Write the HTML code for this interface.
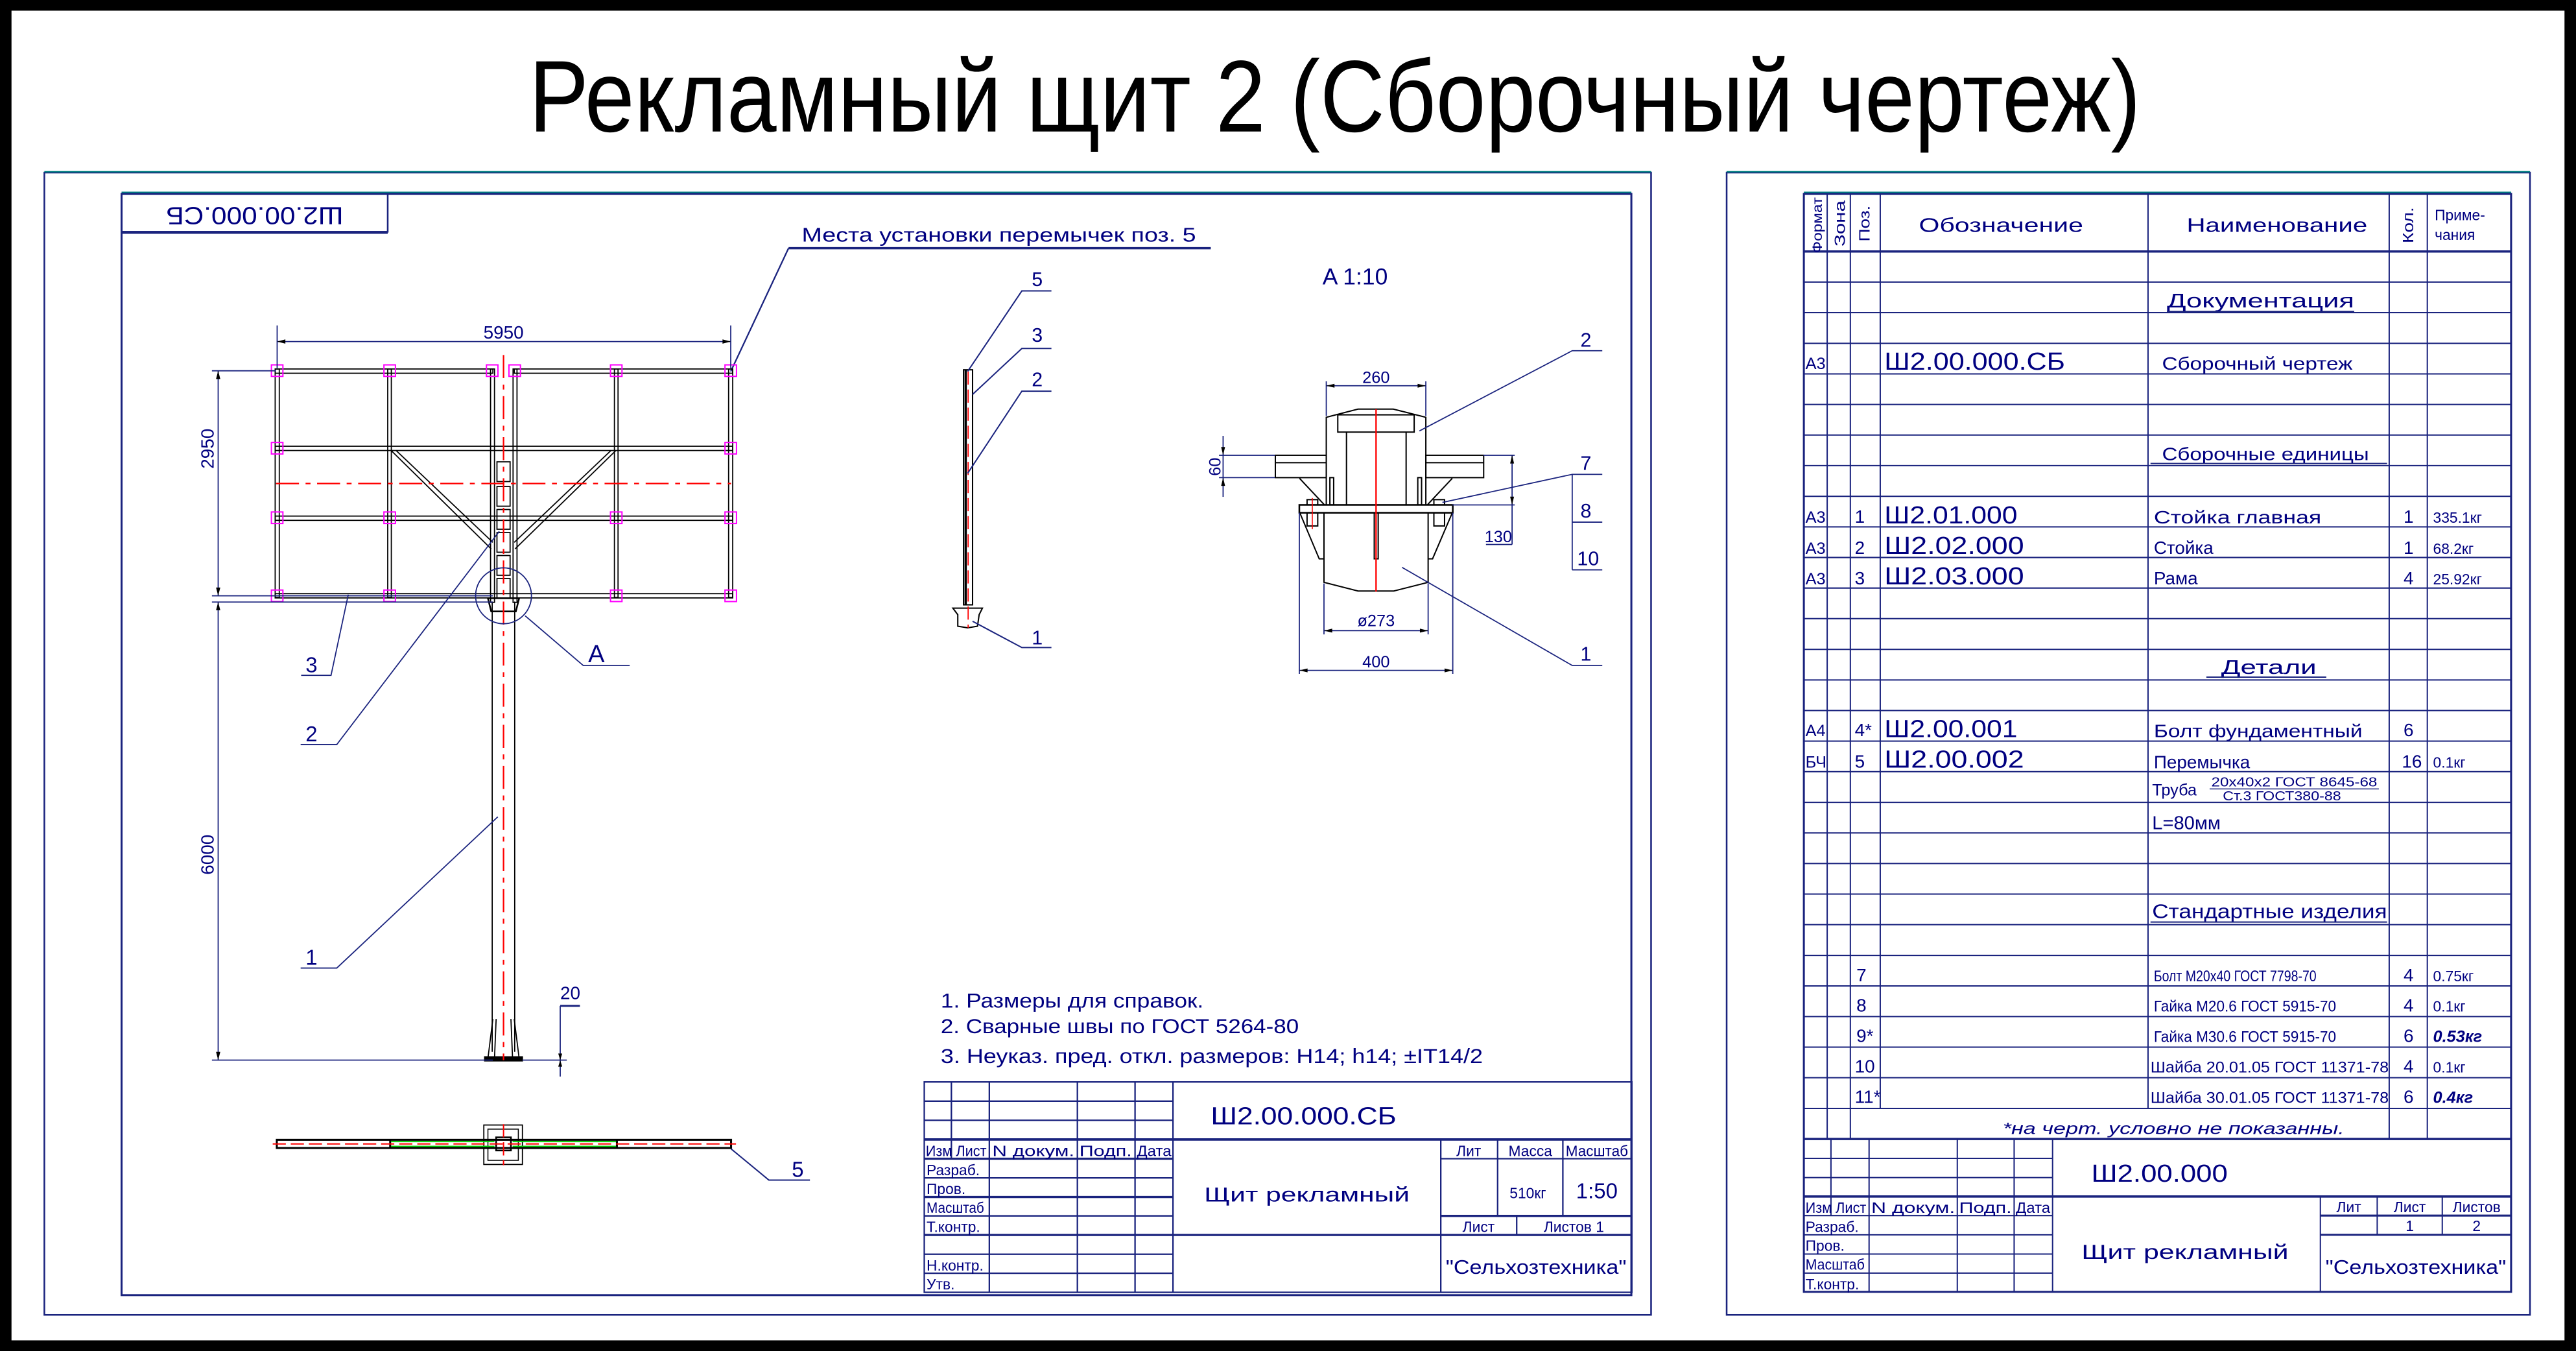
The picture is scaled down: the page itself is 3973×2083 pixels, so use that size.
<!DOCTYPE html>
<html><head><meta charset="utf-8">
<style>
html,body{margin:0;padding:0;background:#000;}
svg{display:block;}
text{font-family:"Liberation Sans","DejaVu Sans",sans-serif;}
</style></head>
<body>
<svg width="3973" height="2083" viewBox="0 0 1568 822" preserveAspectRatio="none" xmlns="http://www.w3.org/2000/svg">
<rect x="0" y="0" width="1568" height="822" fill="#000"/>
<rect x="7" y="6.5" width="1554" height="809" fill="#fff"/>

<!-- Title -->
<text x="322" y="80" font-size="62" textLength="981" lengthAdjust="spacingAndGlyphs" fill="#000">Рекламный щит 2 (Сборочный чертеж)</text>

<!-- LEFT SHEET -->
<g fill="none" stroke="#1a237e">
<rect x="27" y="105" width="978" height="695" stroke-width="1"/>
<line x1="27" y1="104.5" x2="1005" y2="104.5" stroke="#008080" stroke-width="0.8"/>
<rect x="74" y="118" width="919" height="670" stroke-width="1.2"/>
<line x1="74" y1="117" x2="993" y2="117" stroke="#008080" stroke-width="0.8"/>
<rect x="74" y="118" width="162" height="23" stroke-width="1"/>
<line x1="74" y1="141.5" x2="236" y2="141.5" stroke-width="1.5"/>
</g>
<text transform="translate(155,130) rotate(180)" x="0" y="0" font-size="15" text-anchor="middle" dominant-baseline="middle" textLength="108" lengthAdjust="spacingAndGlyphs" fill="#000080">Ш2.00.000.СБ</text>

<!-- leader top label -->
<text x="488" y="147" font-size="12" textLength="240" lengthAdjust="spacingAndGlyphs" fill="#000080">Места установки перемычек   поз. 5</text>
<g stroke="#1a237e" fill="none" stroke-width="0.9">
<line x1="480" y1="151" x2="737" y2="151" stroke-width="1.4"/>
<line x1="480" y1="151" x2="444.8" y2="226"/>
</g>

<!-- Front view: frame -->
<g stroke="#000" fill="none" stroke-width="0.7">
<!-- outer verticals -->
<rect x="167.5" y="224.5" width="2.5" height="139"/>
<rect x="443.5" y="224.5" width="2.5" height="139"/>
<rect x="236" y="224.5" width="2.2" height="139"/>
<rect x="374" y="224.5" width="2.2" height="139"/>
<!-- horizontal rails -->
<rect x="167.5" y="224.5" width="132.5" height="2.6"/>
<rect x="313" y="224.5" width="133" height="2.6"/>
<rect x="167.5" y="271.5" width="278.5" height="2.6"/>
<rect x="167.5" y="314" width="278.5" height="2.6"/>
<rect x="167.5" y="361.2" width="278.5" height="2.6"/>
<!-- central posts -->
<rect x="298.6" y="224.5" width="2.4" height="142"/>
<rect x="312.3" y="224.5" width="2.4" height="142"/>
<!-- diagonals -->
<line x1="238" y1="274" x2="299" y2="334"/>
<line x1="241" y1="274" x2="300" y2="330"/>
<line x1="375" y1="274" x2="313.5" y2="334"/>
<line x1="372" y1="274" x2="313" y2="330"/>
<!-- column blocks -->
<rect x="302.5" y="281" width="8" height="12"/>
<rect x="302.5" y="296" width="8" height="12"/>
<rect x="302.5" y="310" width="8" height="12"/>
<rect x="302.5" y="324" width="8" height="12"/>
<rect x="302.5" y="338" width="8" height="12"/>
<rect x="302.5" y="352" width="8" height="12"/>
<!-- pole -->
<line x1="299.6" y1="366" x2="299.6" y2="640"/>
<line x1="313.3" y1="366" x2="313.3" y2="640"/>
<path d="M297 364 L316 364 L314 372 L299 372 Z" stroke-width="1"/>
<path d="M300 620 L297 644 M313 620 L316 644 M302 620 L301 644 M311 620 L312 644"/>
<rect x="295" y="643" width="23" height="2.5" fill="#000"/>
</g>
<!-- red centerlines -->
<g stroke="#ff0000" stroke-width="0.9" fill="none" stroke-dasharray="14,4,3,4">
<line x1="306.5" y1="216" x2="306.5" y2="645"/>
<line x1="168" y1="294.2" x2="445" y2="294.2"/>
</g>
<!-- magenta squares -->
<g stroke="#ff00ff" fill="none" stroke-width="0.8">
<rect x="165.2" y="222" width="7" height="7"/><rect x="233.7" y="222" width="7" height="7"/><rect x="296.1" y="222" width="7" height="7"/><rect x="309.8" y="222" width="7" height="7"/><rect x="371.6" y="222" width="7" height="7"/><rect x="441.3" y="222" width="7" height="7"/>
<rect x="165.2" y="269.2" width="7" height="7"/><rect x="441.3" y="269.2" width="7" height="7"/>
<rect x="165.2" y="311.5" width="7" height="7"/><rect x="233.7" y="311.5" width="7" height="7"/><rect x="371.6" y="311.5" width="7" height="7"/><rect x="441.3" y="311.5" width="7" height="7"/>
<rect x="165.2" y="359" width="7" height="7"/><rect x="233.7" y="359" width="7" height="7"/><rect x="371.6" y="359" width="7" height="7"/><rect x="441.3" y="359" width="7" height="7"/>
</g>
<!-- dims front -->
<g stroke="#1a237e" fill="none" stroke-width="0.7">
<line x1="168.7" y1="198" x2="168.7" y2="224"/>
<line x1="444.8" y1="198" x2="444.8" y2="224"/>
<line x1="168.7" y1="207.8" x2="444.8" y2="207.8"/>
<line x1="129" y1="225.6" x2="168" y2="225.6"/>
<line x1="129" y1="362.5" x2="300" y2="362.5"/>
<line x1="129" y1="366.3" x2="300" y2="366.3"/>
<line x1="132.8" y1="225.6" x2="132.8" y2="362.5"/>
<line x1="132.8" y1="366.3" x2="132.8" y2="645"/>
<line x1="129" y1="645" x2="300" y2="645"/>
<line x1="318" y1="645" x2="345" y2="645"/>
<line x1="341" y1="612" x2="341" y2="655"/>
<line x1="341" y1="612" x2="353" y2="612" stroke-width="1.2"/>
<circle cx="306.5" cy="362.5" r="17"/>
<polyline points="319.7,374.7 355,404.9 383.3,404.9"/>
<polyline points="212,361.8 201.5,410.9 183.3,410.9"/>
<polyline points="303.9,323.3 205,453 183,453"/>
<polyline points="303,497 205,589 183,589"/>
</g>
<g fill="#000" stroke="none">
<path d="M168.7 207.8 l5 -1.3 v2.6z M444.8 207.8 l-5 -1.3 v2.6z M132.8 225.6 l-1.3 5 h2.6z M132.8 362.5 l-1.3 -5 h2.6z M132.8 366.3 l-1.3 5 h2.6z M132.8 645 l-1.3 -5 h2.6z M341 645 l-1.2 -4 h2.4z M341 645 l-1.2 4 h2.4z"/>
</g>
<g fill="#000080" font-size="12">
<text x="306.5" y="206" text-anchor="middle" font-size="11">5950</text>
<text transform="translate(130,273) rotate(-90)" text-anchor="middle" font-size="11">2950</text>
<text transform="translate(130,520) rotate(-90)" text-anchor="middle" font-size="11">6000</text>
<text x="341" y="608" font-size="11">20</text>
<text x="358" y="403" font-size="15">A</text>
<text x="186" y="409" font-size="13">3</text>
<text x="186" y="451" font-size="13">2</text>
<text x="186" y="587" font-size="13">1</text>
<text x="482" y="716" font-size="13">5</text>
</g>

<!-- top plan view -->
<g stroke="#000" fill="none" stroke-width="1.2">
<rect x="168.5" y="693.5" width="276.5" height="5"/>
<line x1="237.5" y1="693.5" x2="237.5" y2="698.5"/>
<line x1="375.5" y1="693.5" x2="375.5" y2="698.5"/>
<rect x="294.5" y="684.5" width="23.5" height="24" stroke-width="0.7"/>
<rect x="297" y="687" width="18.5" height="19" stroke-width="0.6"/>
<rect x="302" y="692" width="9" height="8" stroke-width="1"/>
</g>
<g stroke="#00cc00" stroke-width="0.8"><line x1="238" y1="694.6" x2="301" y2="694.6"/><line x1="312" y1="694.6" x2="375" y2="694.6"/><line x1="238" y1="697.5" x2="301" y2="697.5"/><line x1="312" y1="697.5" x2="375" y2="697.5"/></g>
<g stroke="#ff0000" stroke-width="0.8" stroke-dasharray="8,3"><line x1="166" y1="696" x2="448" y2="696"/><line x1="306.5" y1="684" x2="306.5" y2="709"/></g>
<polyline points="445,699 468,718 493,718" stroke="#1a237e" fill="none" stroke-width="0.8"/>

<!-- side view -->
<g stroke="#000" fill="none" stroke-width="0.8">
<rect x="586.5" y="225" width="5.5" height="143"/>
<line x1="587.8" y1="225" x2="587.8" y2="368" stroke-width="1.4"/>
<path d="M580 370 L598 370 L596 374 L595 381 L589 382 L583 381 L583 374 Z"/>
</g>
<line x1="589.3" y1="226" x2="589.3" y2="382" stroke="#ff0000" stroke-width="0.7" stroke-dasharray="8,3"/>
<g stroke="#1a237e" fill="none" stroke-width="0.8">
<polyline points="589,226 622,177 640,177"/>
<polyline points="592,240 622,212 640,212"/>
<polyline points="589,288 622,238 640,238"/>
<polyline points="592,378 622,394 640,394"/>
</g>
<g fill="#000080" font-size="12">
<text x="628" y="174">5</text><text x="628" y="208">3</text><text x="628" y="235">2</text><text x="628" y="392">1</text>
</g>

<!-- detail A -->
<text x="805" y="173" font-size="14" fill="#000080">A    1:10</text>
<g stroke="#000" fill="none" stroke-width="0.8">
<path d="M807.3 307.2 V253.9 L826.6 248.9 H848.1 L867.9 253.9 V307.2"/>
<rect x="814.3" y="252.4" width="46.5" height="10.5"/>
<line x1="819.6" y1="262.9" x2="819.6" y2="307.2"/>
<line x1="855.9" y1="262.9" x2="855.9" y2="307.2"/>
<rect x="776.3" y="277" width="31" height="13.6"/>
<line x1="776.3" y1="281.5" x2="807.3" y2="281.5"/>
<rect x="867.9" y="277" width="35.2" height="13.6"/>
<line x1="867.9" y1="281.5" x2="903.1" y2="281.5"/>
<line x1="791" y1="291" x2="806" y2="307"/>
<line x1="884" y1="291" x2="869" y2="307"/>
<rect x="809.5" y="290.6" width="2.3" height="16.6"/><rect x="863" y="290.6" width="2.3" height="16.6"/>
<rect x="790.9" y="307.2" width="93.4" height="4.8" stroke-width="1"/>
<path d="M790.9 311.3 L803 340 H806 M884.3 311.3 L872 340 H869.3"/>
<path d="M805.9 312 V354.3 L826.6 359.6 H848.4 L869.3 354.3 V312"/>
<rect x="836.5" y="312" width="2.4" height="28"/>
<rect x="795.6" y="304" width="6.5" height="3.2"/><rect x="795.6" y="312" width="6.5" height="8"/>
<rect x="872.8" y="304" width="6.5" height="3.2"/><rect x="872.8" y="312" width="6.5" height="8"/>
</g>
<line x1="837.6" y1="249" x2="837.6" y2="360" stroke="#ff0000" stroke-width="0.9"/>
<line x1="798.8" y1="303" x2="798.8" y2="322" stroke="#ff0000" stroke-width="0.6"/>
<g stroke="#1a237e" fill="none" stroke-width="0.7">
<line x1="807.3" y1="232" x2="807.3" y2="253"/><line x1="867.9" y1="232" x2="867.9" y2="253"/>
<line x1="807.3" y1="234.7" x2="867.9" y2="234.7"/>
<line x1="805.9" y1="355" x2="805.9" y2="386"/><line x1="869.3" y1="355" x2="869.3" y2="386"/>
<line x1="805.9" y1="383.7" x2="869.3" y2="383.7"/>
<line x1="790.9" y1="312" x2="790.9" y2="410"/><line x1="884.3" y1="312" x2="884.3" y2="410"/>
<line x1="790.9" y1="407.9" x2="884.3" y2="407.9"/>
<line x1="744.5" y1="265.2" x2="744.5" y2="302.3"/>
<line x1="742" y1="277" x2="776" y2="277"/><line x1="742" y1="290.6" x2="776" y2="290.6"/>
<line x1="903" y1="277" x2="922" y2="277"/><line x1="884" y1="307.2" x2="922" y2="307.2"/>
<line x1="920.4" y1="277" x2="920.4" y2="331.3"/>
<line x1="904.5" y1="331.3" x2="920.4" y2="331.3"/>
<polyline points="864,262.2 957,213.4 975.3,213.4"/>
<polyline points="878,305.7 957,288.6 975.3,288.6"/>
<line x1="957" y1="288.6" x2="957" y2="346.7"/>
<line x1="957" y1="317.7" x2="975.3" y2="317.7"/>
<line x1="957" y1="346.7" x2="975.3" y2="346.7"/>
<polyline points="853.4,345.2 957,404.9 975.3,404.9"/>
</g>
<g fill="#000">
<path d="M807.3 234.7 l5 -1.2 v2.4z M867.9 234.7 l-5 -1.2 v2.4z M805.9 383.7 l5 -1.2 v2.4z M869.3 383.7 l-5 -1.2 v2.4z M790.9 407.9 l5 -1.2 v2.4z M884.3 407.9 l-5 -1.2 v2.4z M744.5 277 l-1.2 -5 h2.4z M744.5 290.6 l-1.2 5 h2.4z M920.4 277 l-1.2 5 h2.4z M920.4 307.2 l-1.2 -5 h2.4z"/>
</g>
<g fill="#000080" font-size="10">
<text x="837.6" y="233" text-anchor="middle">260</text>
<text x="837.6" y="381" text-anchor="middle">ø273</text>
<text x="837.6" y="406" text-anchor="middle">400</text>
<text transform="translate(743,284) rotate(-90)" text-anchor="middle">60</text>
<text x="912" y="330" text-anchor="middle">130</text>
<text x="962" y="211" font-size="12">2</text>
<text x="962" y="286" font-size="12">7</text>
<text x="962" y="315" font-size="12">8</text>
<text x="960" y="344" font-size="12">10</text>
<text x="962" y="402" font-size="12">1</text>
</g>

<!-- notes -->
<g fill="#000080" font-size="12.5">
<text x="572.6" y="613" textLength="160" lengthAdjust="spacingAndGlyphs">1. Размеры для справок.</text>
<text x="572.6" y="628.6" textLength="218" lengthAdjust="spacingAndGlyphs">2. Сварные швы по ГОСТ 5264-80</text>
<text x="572.6" y="646.7" textLength="330" lengthAdjust="spacingAndGlyphs">3. Неуказ. пред. откл. размеров: H14; h14; ±IT14/2</text>
</g>

<!-- left title block -->
<g stroke="#1a237e" fill="none" stroke-width="0.9">
<rect x="562.6" y="658.3" width="430.7" height="128"/>
<line x1="562.6" y1="670" x2="714" y2="670"/>
<line x1="562.6" y1="681.6" x2="714" y2="681.6"/>
<line x1="562.6" y1="693.3" x2="993.3" y2="693.3" stroke-width="1.5"/>
<line x1="562.6" y1="705" x2="714" y2="705" stroke-width="1.3"/>
<line x1="877" y1="705" x2="993.3" y2="705"/>
<line x1="562.6" y1="716.7" x2="714" y2="716.7"/>
<line x1="562.6" y1="728.3" x2="714" y2="728.3" stroke-width="1.3"/>
<line x1="562.6" y1="739.8" x2="714" y2="739.8"/>
<line x1="877" y1="739.8" x2="993.3" y2="739.8" stroke-width="1.3"/>
<line x1="562.6" y1="751.4" x2="993.3" y2="751.4" stroke-width="1.3"/>
<line x1="562.6" y1="763.1" x2="714" y2="763.1"/>
<line x1="562.6" y1="774.7" x2="714" y2="774.7"/>
<line x1="579.1" y1="658.3" x2="579.1" y2="705"/>
<line x1="602.2" y1="658.3" x2="602.2" y2="786.3"/>
<line x1="655.8" y1="658.3" x2="655.8" y2="786.3"/>
<line x1="690.9" y1="658.3" x2="690.9" y2="786.3"/>
<line x1="714" y1="658.3" x2="714" y2="786.3"/>
<line x1="877" y1="693.3" x2="877" y2="786.3"/>
<line x1="911.6" y1="693.3" x2="911.6" y2="739.8"/>
<line x1="951.3" y1="693.3" x2="951.3" y2="739.8"/>
<line x1="923.2" y1="739.8" x2="923.2" y2="751.4"/>
</g>
<g fill="#000080" font-size="9">
<text x="563.5" y="703.5" textLength="37" lengthAdjust="spacingAndGlyphs">Изм Лист</text>
<text x="604" y="703.5" textLength="50" lengthAdjust="spacingAndGlyphs">N  докум.</text>
<text x="657" y="703.5" textLength="32" lengthAdjust="spacingAndGlyphs">Подп.</text>
<text x="692" y="703.5" textLength="21" lengthAdjust="spacingAndGlyphs">Дата</text>
<text x="564" y="715">Разраб.</text>
<text x="564" y="726.5">Пров.</text>
<text x="564" y="738" textLength="35" lengthAdjust="spacingAndGlyphs">Масштаб</text>
<text x="564" y="749.5">Т.контр.</text>
<text x="564" y="773">Н.контр.</text>
<text x="564" y="784.5">Утв.</text>
<text x="737" y="684" font-size="15" textLength="113" lengthAdjust="spacingAndGlyphs">Ш2.00.000.СБ</text>
<text x="795.5" y="731" font-size="12.5" text-anchor="middle" textLength="125" lengthAdjust="spacingAndGlyphs">Щит  рекламный</text>
<text x="894" y="703.5" text-anchor="middle">Лит</text>
<text x="931.5" y="703.5" text-anchor="middle">Масса</text>
<text x="972" y="703.5" text-anchor="middle" textLength="38" lengthAdjust="spacingAndGlyphs">Масштаб</text>
<text x="930" y="729" text-anchor="middle">510кг</text>
<text x="972" y="729" text-anchor="middle" font-size="13">1:50</text>
<text x="900" y="749.5" text-anchor="middle">Лист</text>
<text x="958" y="749.5" text-anchor="middle">Листов  1</text>
<text x="935" y="775" text-anchor="middle" font-size="12" textLength="110" lengthAdjust="spacingAndGlyphs">"Сельхозтехника"</text>
</g>

<!-- RIGHT SHEET -->
<g fill="none" stroke="#1a237e">
<rect x="1051" y="105" width="489" height="695" stroke-width="1"/>
<line x1="1051" y1="104.5" x2="1540" y2="104.5" stroke="#008080" stroke-width="0.8"/>
<rect x="1098" y="118" width="430.5" height="668" stroke-width="1.2"/>
<line x1="1098" y1="117" x2="1528.5" y2="117" stroke="#008080" stroke-width="0.8"/>
</g>
<!-- spec table grid -->
<g stroke="#1a237e" stroke-width="0.8" fill="none">
<line x1="1098" y1="153" x2="1528.5" y2="153" stroke-width="1.4"/>
<path d="M1098 171.6H1528.5M1098 190.2H1528.5M1098 208.9H1528.5M1098 227.5H1528.5M1098 246.1H1528.5M1098 264.7H1528.5M1098 283.3H1528.5M1098 302H1528.5M1098 320.6H1528.5M1098 339.2H1528.5M1098 357.8H1528.5M1098 376.4H1528.5M1098 395.1H1528.5M1098 413.7H1528.5M1098 432.3H1528.5M1098 450.9H1528.5M1098 469.5H1528.5M1098 488.2H1528.5M1098 506.8H1528.5M1098 525.4H1528.5M1098 544H1528.5M1098 562.6H1528.5M1098 581.3H1528.5M1098 599.9H1528.5M1098 618.5H1528.5M1098 637.1H1528.5M1098 655.7H1528.5M1098 674.4H1528.5"/>
<line x1="1098" y1="693" x2="1528.5" y2="693" stroke-width="1.4"/>
<path d="M1112.2 118V693M1126.3 118V693M1144.5 118V674.4M1307.5 118V674.4M1454.3 118V693M1477.5 118V693"/>
<!-- title block -->
<path d="M1098 704.8H1249.4M1098 716.5H1249.4M1098 739.6H1249.4M1098 751.3H1249.4M1098 763H1249.4M1098 774.6H1249.4"/>
<line x1="1098" y1="728" x2="1528.5" y2="728" stroke-width="1.4"/>
<line x1="1412.4" y1="739.6" x2="1528.5" y2="739.6" stroke-width="1.2"/>
<line x1="1412.4" y1="751.3" x2="1528.5" y2="751.3" stroke-width="1.2"/>
<path d="M1114.5 693V739.6M1137.7 693V786M1191.4 693V786M1226 693V786M1249.4 693V786M1412.4 728V786M1447 728V751.3M1486.6 728V751.3"/>
</g>
<!-- spec headers -->
<g fill="#000080">
<text transform="translate(1109,154) rotate(-90)" font-size="8.5" textLength="34" lengthAdjust="spacingAndGlyphs">Формат</text>
<text transform="translate(1123,150) rotate(-90)" font-size="9" textLength="28" lengthAdjust="spacingAndGlyphs">Зона</text>
<text transform="translate(1138,147) rotate(-90)" font-size="9" textLength="22" lengthAdjust="spacingAndGlyphs">Поз.</text>
<text x="1218" y="141" font-size="12" text-anchor="middle" textLength="100" lengthAdjust="spacingAndGlyphs">Обозначение</text>
<text x="1386" y="141" font-size="12" text-anchor="middle" textLength="110" lengthAdjust="spacingAndGlyphs">Наименование</text>
<text transform="translate(1469,148) rotate(-90)" font-size="9" textLength="22" lengthAdjust="spacingAndGlyphs">Кол.</text>
<text x="1482" y="134" font-size="9">Приме-</text>
<text x="1482" y="146" font-size="9">чания</text>
</g>
<g fill="#000080" font-size="11">
<text x="1376" y="187" text-anchor="middle" font-size="12" textLength="114" lengthAdjust="spacingAndGlyphs">Документация</text>
<line x1="1319" y1="189.5" x2="1433" y2="189.5" stroke="#1a237e" stroke-width="0.8"/>
<text x="1099" y="224.5" font-size="10">А3</text>
<text x="1147" y="225" font-size="15" textLength="110" lengthAdjust="spacingAndGlyphs">Ш2.00.000.СБ</text>
<text x="1316" y="225" textLength="116" lengthAdjust="spacingAndGlyphs">Сборочный чертеж</text>
<text x="1316" y="280" textLength="126" lengthAdjust="spacingAndGlyphs">Сборочные единицы</text>
<line x1="1309" y1="282" x2="1453" y2="282" stroke="#1a237e" stroke-width="0.8"/>
<text x="1099" y="318" font-size="10">А3</text><text x="1129" y="318">1</text>
<text x="1147" y="318.5" font-size="15" textLength="81" lengthAdjust="spacingAndGlyphs">Ш2.01.000</text>
<text x="1311" y="318.5" textLength="102" lengthAdjust="spacingAndGlyphs">Стойка главная</text>
<text x="1463" y="318">1</text><text x="1481" y="318" font-size="9">335.1кг</text>
<text x="1099" y="337" font-size="10">А3</text><text x="1129" y="337">2</text>
<text x="1147" y="337" font-size="15" textLength="85" lengthAdjust="spacingAndGlyphs">Ш2.02.000</text>
<text x="1311" y="337">Стойка</text>
<text x="1463" y="337">1</text><text x="1481" y="337" font-size="9">68.2кг</text>
<text x="1099" y="355.5" font-size="10">А3</text><text x="1129" y="355.5">3</text>
<text x="1147" y="355.5" font-size="15" textLength="85" lengthAdjust="spacingAndGlyphs">Ш2.03.000</text>
<text x="1311" y="355.5">Рама</text>
<text x="1463" y="355.5">4</text><text x="1481" y="355.5" font-size="9">25.92кг</text>
<text x="1352" y="410" font-size="12" textLength="58" lengthAdjust="spacingAndGlyphs">Детали</text>
<line x1="1343" y1="412" x2="1416" y2="412" stroke="#1a237e" stroke-width="0.8"/>
<text x="1099" y="448" font-size="10">А4</text><text x="1129" y="448">4*</text>
<text x="1147" y="448.5" font-size="15" textLength="81" lengthAdjust="spacingAndGlyphs">Ш2.00.001</text>
<text x="1311" y="448.5" textLength="127" lengthAdjust="spacingAndGlyphs">Болт фундаментный</text>
<text x="1463" y="448">6</text>
<text x="1099" y="467" font-size="10">БЧ</text><text x="1129" y="467">5</text>
<text x="1147" y="467" font-size="15" textLength="85" lengthAdjust="spacingAndGlyphs">Ш2.00.002</text>
<text x="1311" y="467.5">Перемычка</text>
<text x="1462" y="467">16</text><text x="1481" y="467" font-size="9">0.1кг</text>
<text x="1310" y="484" font-size="10">Труба</text>
<text x="1346" y="478.5" font-size="8" textLength="101" lengthAdjust="spacingAndGlyphs">20х40х2 ГОСТ 8645-68</text>
<line x1="1345" y1="480" x2="1448" y2="480" stroke="#1a237e" stroke-width="0.6"/>
<text x="1353" y="487" font-size="8" textLength="72" lengthAdjust="spacingAndGlyphs">Ст.3 ГОСТ380-88</text>
<text x="1310" y="504.5" font-size="11.5">L=80мм</text>
<text x="1310" y="558.5" font-size="12" textLength="143" lengthAdjust="spacingAndGlyphs">Стандартные изделия</text>
<line x1="1309" y1="561" x2="1453" y2="561" stroke="#1a237e" stroke-width="0.8"/>
<text x="1130" y="597">7</text>
<text x="1311" y="597" font-size="9.5" textLength="99" lengthAdjust="spacingAndGlyphs">Болт М20х40  ГОСТ 7798-70</text>
<text x="1463" y="597">4</text><text x="1481" y="597" font-size="9">0.75кг</text>
<text x="1130" y="615.5">8</text>
<text x="1311" y="615.5" font-size="9.5" textLength="111" lengthAdjust="spacingAndGlyphs">Гайка М20.6  ГОСТ 5915-70</text>
<text x="1463" y="615.5">4</text><text x="1481" y="615.5" font-size="9">0.1кг</text>
<text x="1130" y="634">9*</text>
<text x="1311" y="634" font-size="9.5" textLength="111" lengthAdjust="spacingAndGlyphs">Гайка М30.6  ГОСТ 5915-70</text>
<text x="1463" y="634">6</text><text x="1481" y="634" font-size="10" font-style="italic" font-weight="bold">0.53кг</text>
<text x="1129" y="652.5">10</text>
<text x="1309" y="652.5" font-size="9.5" textLength="145" lengthAdjust="spacingAndGlyphs">Шайба 20.01.05  ГОСТ 11371-78</text>
<text x="1463" y="652.5">4</text><text x="1481" y="652.5" font-size="9">0.1кг</text>
<text x="1129" y="671">11*</text>
<text x="1309" y="671" font-size="9.5" textLength="145" lengthAdjust="spacingAndGlyphs">Шайба 30.01.05  ГОСТ 11371-78</text>
<text x="1463" y="671">6</text><text x="1481" y="671" font-size="10" font-style="italic" font-weight="bold">0.4кг</text>
<text x="1219" y="690" font-size="10" font-style="italic" font-family="Liberation Serif, serif" textLength="208" lengthAdjust="spacingAndGlyphs">*на  черт.  условно  не  показанны.</text>
</g>
<!-- right title block text -->
<g fill="#000080" font-size="9">
<text x="1099" y="738" textLength="37" lengthAdjust="spacingAndGlyphs">Изм Лист</text>
<text x="1139" y="738" textLength="51" lengthAdjust="spacingAndGlyphs">N  докум.</text>
<text x="1192.5" y="738" textLength="32" lengthAdjust="spacingAndGlyphs">Подп.</text>
<text x="1227" y="738" textLength="21" lengthAdjust="spacingAndGlyphs">Дата</text>
<text x="1099" y="749.5">Разраб.</text>
<text x="1099" y="761">Пров.</text>
<text x="1099" y="772.5" textLength="36" lengthAdjust="spacingAndGlyphs">Масштаб</text>
<text x="1099" y="784.5">Т.контр.</text>
<text x="1273" y="719" font-size="15" textLength="83" lengthAdjust="spacingAndGlyphs">Ш2.00.000</text>
<text x="1330" y="766" font-size="12.5" text-anchor="middle" textLength="126" lengthAdjust="spacingAndGlyphs">Щит  рекламный</text>
<text x="1429.7" y="737.5" text-anchor="middle">Лит</text>
<text x="1466.8" y="737.5" text-anchor="middle">Лист</text>
<text x="1507.5" y="737.5" text-anchor="middle">Листов</text>
<text x="1466.8" y="749" text-anchor="middle">1</text>
<text x="1507.5" y="749" text-anchor="middle">2</text>
<text x="1470.5" y="775" text-anchor="middle" font-size="12" textLength="110" lengthAdjust="spacingAndGlyphs">"Сельхозтехника"</text>
</g>
</svg>
</body></html>
